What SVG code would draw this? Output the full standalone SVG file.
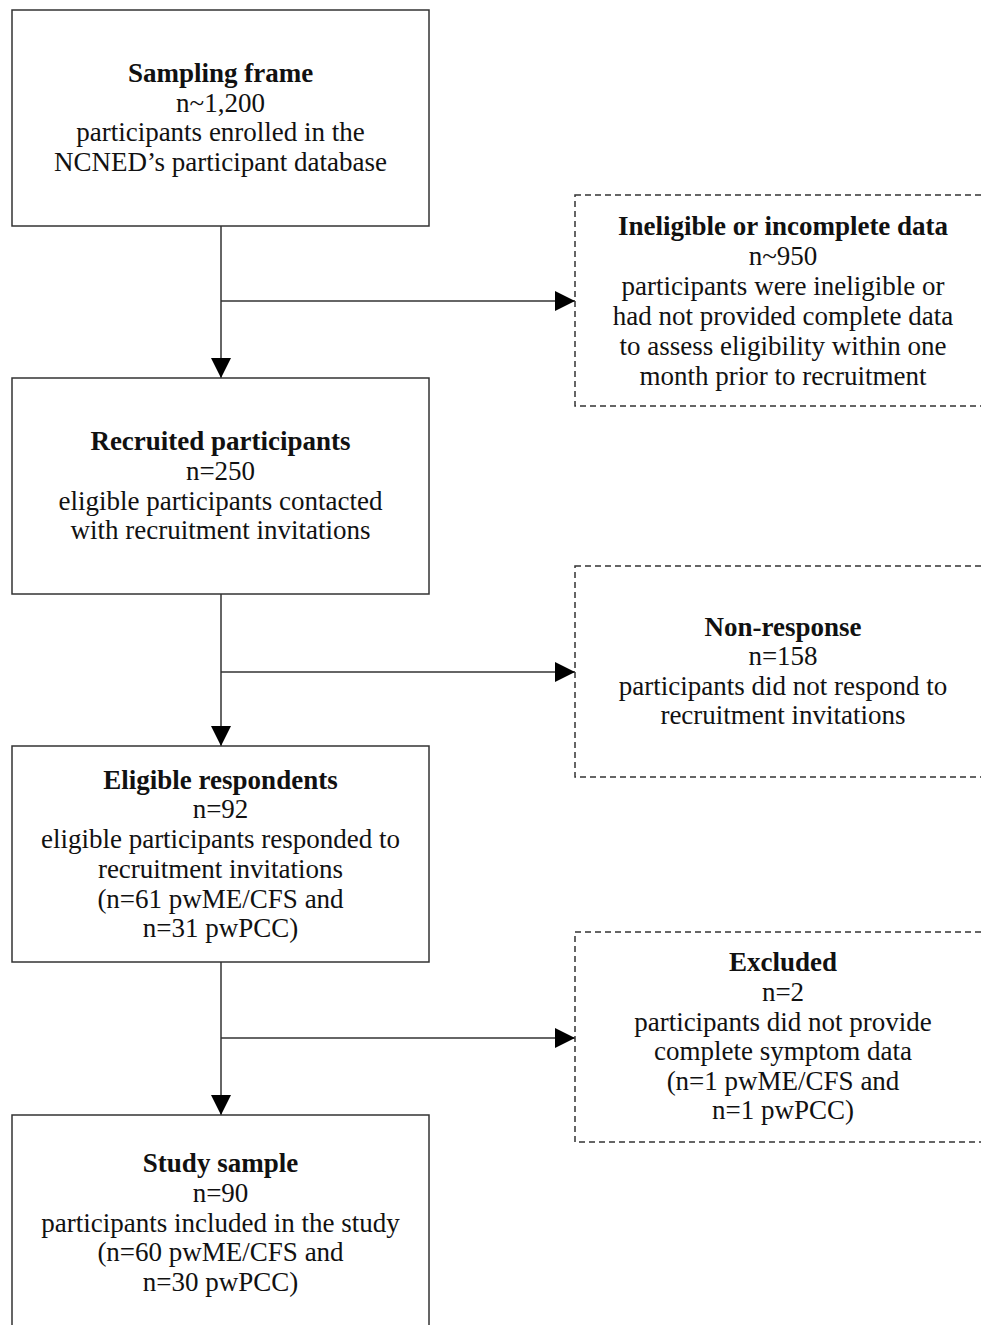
<svg xmlns="http://www.w3.org/2000/svg" width="981" height="1325" viewBox="0 0 981 1325">
<style>
.box{fill:#fff;stroke:#333;stroke-width:1.5}
.dbox{fill:#fff;stroke:#333;stroke-width:1.5;stroke-dasharray:6 4}
.ln{fill:none;stroke:#333;stroke-width:1.5}
text{font-family:"Liberation Serif","Times New Roman",serif;font-size:27px;fill:#111;text-anchor:middle}
.b{font-weight:bold}
</style>
<defs>
<marker id="ah" viewBox="0 0 10 10" refX="10" refY="5" markerWidth="20" markerHeight="20" markerUnits="userSpaceOnUse" orient="auto">
<path d="M0,0 L10,5 L0,10 Z" fill="#000"/>
</marker>
</defs>
<rect width="981" height="1325" fill="#fff"/>
<g id="connectors">
<path class="ln" d="M221,226 V378" marker-end="url(#ah)"/>
<path class="ln" d="M221,301 H575" marker-end="url(#ah)"/>
<path class="ln" d="M221,594 V746" marker-end="url(#ah)"/>
<path class="ln" d="M221,672 H575" marker-end="url(#ah)"/>
<path class="ln" d="M221,962 V1115" marker-end="url(#ah)"/>
<path class="ln" d="M221,1038 H575" marker-end="url(#ah)"/>
</g>
<g id="sampling-frame">
<rect class="box" x="12" y="10" width="417" height="216"/>
<text x="220.5" y="82" class="b">Sampling frame</text>
<text x="220.5" y="112">n~1,200</text>
<text x="220.5" y="141">participants enrolled in the</text>
<text x="220.5" y="171">NCNED’s participant database</text>
</g>
<g id="ineligible">
<rect class="dbox" x="575" y="195" width="420" height="211"/>
<text x="783" y="235" class="b">Ineligible or incomplete data</text>
<text x="783" y="265">n~950</text>
<text x="783" y="295">participants were ineligible or</text>
<text x="783" y="325">had not provided complete data</text>
<text x="783" y="355">to assess eligibility within one</text>
<text x="783" y="385">month prior to recruitment</text>
</g>
<g id="recruited">
<rect class="box" x="12" y="378" width="417" height="216"/>
<text x="220.5" y="450" class="b">Recruited participants</text>
<text x="220.5" y="480">n=250</text>
<text x="220.5" y="510">eligible participants contacted</text>
<text x="220.5" y="539">with recruitment invitations</text>
</g>
<g id="non-response">
<rect class="dbox" x="575" y="566" width="420" height="211"/>
<text x="783" y="636" class="b">Non-response</text>
<text x="783" y="665">n=158</text>
<text x="783" y="695">participants did not respond to</text>
<text x="783" y="724">recruitment invitations</text>
</g>
<g id="eligible">
<rect class="box" x="12" y="746" width="417" height="216"/>
<text x="220.5" y="789" class="b">Eligible respondents</text>
<text x="220.5" y="818">n=92</text>
<text x="220.5" y="848">eligible participants responded to</text>
<text x="220.5" y="878">recruitment invitations</text>
<text x="220.5" y="908">(n=61 pwME/CFS and</text>
<text x="220.5" y="937">n=31 pwPCC)</text>
</g>
<g id="excluded">
<rect class="dbox" x="575" y="932" width="420" height="210"/>
<text x="783" y="971" class="b">Excluded</text>
<text x="783" y="1001">n=2</text>
<text x="783" y="1031">participants did not provide</text>
<text x="783" y="1060">complete symptom data</text>
<text x="783" y="1090">(n=1 pwME/CFS and</text>
<text x="783" y="1119">n=1 pwPCC)</text>
</g>
<g id="study-sample">
<rect class="box" x="12" y="1115" width="417" height="230"/>
<text x="220.5" y="1172" class="b">Study sample</text>
<text x="220.5" y="1202">n=90</text>
<text x="220.5" y="1232">participants included in the study</text>
<text x="220.5" y="1261">(n=60 pwME/CFS and</text>
<text x="220.5" y="1291">n=30 pwPCC)</text>
</g>
</svg>
